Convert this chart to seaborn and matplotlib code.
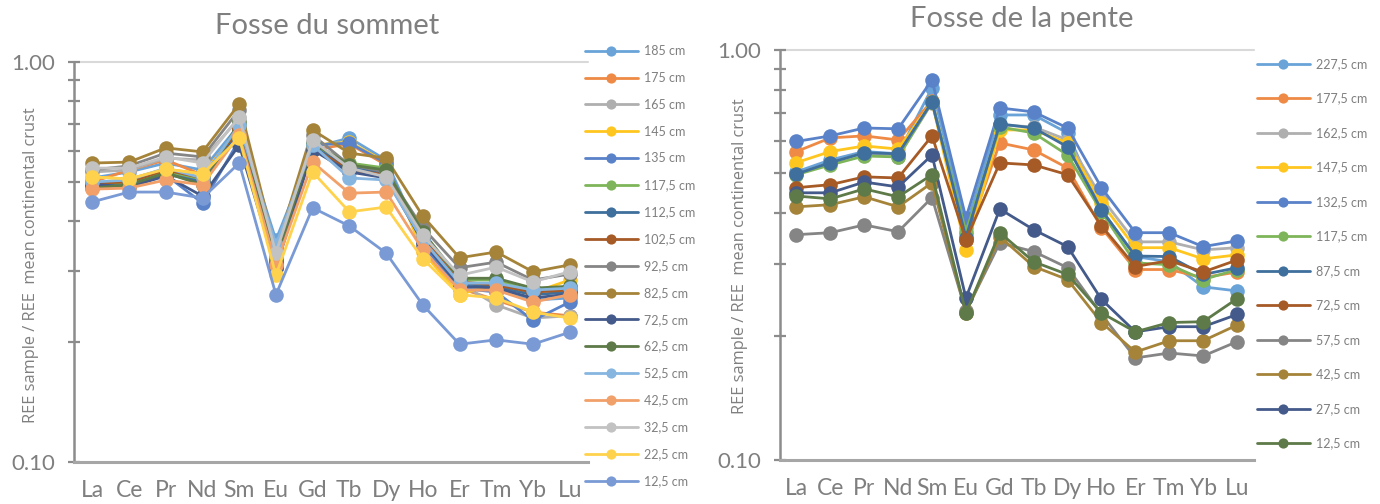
import numpy as np
import pandas as pd
import matplotlib
matplotlib.use("Agg")
import matplotlib.pyplot as plt
import seaborn as sns
from matplotlib.ticker import FixedLocator, FixedFormatter, NullFormatter

sns.set_theme(style="white")
plt.rcParams["font.family"] = ["Lato", "DejaVu Sans"]

elements = ["La", "Ce", "Pr", "Nd", "Sm", "Eu", "Gd", "Tb", "Dy", "Ho", "Er", "Tm", "Yb", "Lu"]

# ---------------- Fosse du sommet ----------------
sommet_labels = ["185 cm", "175 cm", "165 cm", "145 cm", "135 cm", "117,5 cm", "112,5 cm",
                 "102,5 cm", "92,5 cm", "82,5 cm", "72,5 cm", "62,5 cm", "52,5 cm",
                 "42,5 cm", "32,5 cm", "22,5 cm", "12,5 cm"]
s_185 = [0.513, 0.531, 0.559, 0.537, 0.696, 0.359, 0.610, 0.646, 0.569, 0.355, 0.277, 0.269, 0.254, 0.257]
s_175 = [0.501, 0.537, 0.569, 0.522, 0.684, 0.320, 0.603, 0.624, 0.553, 0.349, 0.272, 0.254, 0.237, 0.232]
s_165 = [0.531, 0.537, 0.575, 0.569, 0.724, 0.324, 0.631, 0.553, 0.537, 0.363, 0.280, 0.247, 0.229, 0.232]
s_145 = [0.516, 0.510, 0.540, 0.525, 0.676, 0.316, 0.620, 0.631, 0.562, 0.335, 0.262, 0.280, 0.265, 0.285]
s_135 = [0.493, 0.493, 0.522, 0.444, 0.638, 0.306, 0.620, 0.627, 0.559, 0.349, 0.272, 0.266, 0.226, 0.251]
s_117 = [0.493, 0.498, 0.531, 0.507, 0.696, 0.316, 0.620, 0.559, 0.543, 0.367, 0.285, 0.285, 0.269, 0.272]
s_112 = [0.490, 0.490, 0.525, 0.501, 0.676, 0.311, 0.613, 0.546, 0.528, 0.359, 0.280, 0.274, 0.262, 0.266]
s_102 = [0.498, 0.501, 0.537, 0.513, 0.684, 0.316, 0.610, 0.537, 0.522, 0.363, 0.282, 0.277, 0.266, 0.269]
s_92 = [0.537, 0.550, 0.592, 0.579, 0.759, 0.329, 0.657, 0.553, 0.531, 0.385, 0.306, 0.316, 0.285, 0.295]
s_82 = [0.559, 0.562, 0.610, 0.596, 0.785, 0.339, 0.676, 0.592, 0.575, 0.412, 0.324, 0.335, 0.299, 0.311]
s_72 = [0.495, 0.487, 0.519, 0.462, 0.620, 0.306, 0.603, 0.531, 0.513, 0.355, 0.275, 0.272, 0.257, 0.263]
s_62 = [0.484, 0.493, 0.528, 0.493, 0.708, 0.320, 0.627, 0.553, 0.537, 0.376, 0.288, 0.288, 0.272, 0.275]
s_52 = [0.501, 0.507, 0.543, 0.513, 0.696, 0.349, 0.620, 0.513, 0.507, 0.359, 0.280, 0.280, 0.269, 0.272]
s_42 = [0.481, 0.484, 0.507, 0.493, 0.657, 0.311, 0.562, 0.470, 0.473, 0.339, 0.269, 0.269, 0.251, 0.262]
s_32 = [0.543, 0.543, 0.579, 0.559, 0.729, 0.333, 0.638, 0.543, 0.516, 0.369, 0.293, 0.307, 0.282, 0.299]
s_22 = [0.516, 0.510, 0.540, 0.525, 0.646, 0.293, 0.531, 0.422, 0.434, 0.322, 0.262, 0.257, 0.237, 0.229]
s_12 = [0.447, 0.473, 0.473, 0.457, 0.559, 0.262, 0.432, 0.389, 0.333, 0.247, 0.197, 0.202, 0.197, 0.211]
sommet_series = [s_185, s_175, s_165, s_145, s_135, s_117, s_112, s_102, s_92, s_82,
                 s_72, s_62, s_52, s_42, s_32, s_22, s_12]

# ---------------- Fosse de la pente ----------------
pente_labels = ["227,5 cm", "177,5 cm", "162,5 cm", "147,5 cm", "132,5 cm", "117,5 cm",
                "87,5 cm", "72,5 cm", "57,5 cm", "42,5 cm", "27,5 cm", "12,5 cm"]
p_227 = [0.504, 0.539, 0.565, 0.558, 0.808, 0.370, 0.694, 0.694, 0.627, 0.407, 0.313, 0.304, 0.264, 0.258]
p_177 = [0.565, 0.610, 0.617, 0.603, 0.751, 0.344, 0.593, 0.570, 0.515, 0.368, 0.291, 0.291, 0.278, 0.287]
p_162 = [0.498, 0.530, 0.561, 0.548, 0.743, 0.354, 0.656, 0.649, 0.603, 0.436, 0.340, 0.340, 0.325, 0.329]
p_147 = [0.531, 0.565, 0.583, 0.573, 0.747, 0.325, 0.638, 0.638, 0.593, 0.423, 0.329, 0.329, 0.309, 0.316]
p_132 = [0.598, 0.617, 0.645, 0.642, 0.845, 0.389, 0.722, 0.706, 0.645, 0.461, 0.358, 0.358, 0.331, 0.342]
p_117 = [0.496, 0.524, 0.551, 0.548, 0.747, 0.360, 0.649, 0.627, 0.554, 0.403, 0.302, 0.299, 0.275, 0.291]
p_87 = [0.498, 0.531, 0.561, 0.558, 0.747, 0.348, 0.660, 0.645, 0.580, 0.407, 0.314, 0.313, 0.283, 0.294]
p_72 = [0.461, 0.469, 0.490, 0.487, 0.617, 0.344, 0.530, 0.524, 0.496, 0.372, 0.296, 0.306, 0.287, 0.307]
p_57 = [0.354, 0.358, 0.374, 0.360, 0.436, 0.230, 0.338, 0.322, 0.294, 0.226, 0.177, 0.182, 0.179, 0.194]
p_42 = [0.414, 0.419, 0.438, 0.414, 0.474, 0.228, 0.350, 0.296, 0.275, 0.216, 0.183, 0.195, 0.195, 0.213]
p_27 = [0.448, 0.448, 0.476, 0.463, 0.554, 0.248, 0.409, 0.364, 0.331, 0.246, 0.205, 0.211, 0.211, 0.226]
p_12 = [0.440, 0.433, 0.458, 0.438, 0.496, 0.228, 0.358, 0.304, 0.283, 0.228, 0.205, 0.216, 0.217, 0.247]
pente_series = [p_227, p_177, p_162, p_147, p_132, p_117, p_87, p_72, p_57, p_42, p_27, p_12]

palette_colors = ["#69A3D8", "#EE8A45", "#AFAFAF", "#FFC61F", "#5A82C9", "#7FB55A",
                  "#3F6F9C", "#A65A26", "#858585", "#A5843A", "#435A8A", "#5D7A48",
                  "#86B5E0", "#F2A06A", "#C2C2C2", "#FFD24D", "#7A9AD5"]

GRAY = "#7F7F7F"


def long_frame(labels, series):
    rows = []
    for lab, vals in zip(labels, series):
        for i, (el, v) in enumerate(zip(elements, vals)):
            rows.append({"sample": lab, "pos": i, "element": el, "value": v})
    return pd.DataFrame(rows)


W, H = 1380, 504
fig = plt.figure(figsize=(W / 100, H / 100), dpi=100)


def make_panel(rect, labels, series, title, title_xy, ylab_xy, leg_anchor, leg_spacing):
    ax = fig.add_axes(rect)
    df = long_frame(labels, series)
    pal = dict(zip(labels, palette_colors[:len(labels)]))
    sns.lineplot(data=df, x="pos", y="value", hue="sample", hue_order=labels, palette=pal,
                 marker="o", markersize=10.5, markeredgewidth=0, linewidth=2.0,
                 sort=False, legend=False, ax=ax)
    ax.set_yscale("log")
    ax.set_ylim(0.1, 1.0)
    ax.set_xlim(-0.5, len(elements) - 0.5)
    ax.set_xticks(range(len(elements)))
    ax.set_xticklabels(elements)
    ax.yaxis.set_major_locator(FixedLocator([0.1, 1.0]))
    ax.yaxis.set_major_formatter(FixedFormatter(["0.10", "1.00"]))
    ax.yaxis.set_minor_locator(FixedLocator([0.2, 0.3, 0.4, 0.5, 0.6, 0.7, 0.8, 0.9]))
    ax.yaxis.set_minor_formatter(NullFormatter())
    ax.tick_params(axis="y", which="both", direction="inout", length=9, width=1.6,
                   color="#8C8C8C", left=True, labelsize=16, labelcolor=GRAY, pad=9)
    ax.tick_params(axis="x", which="both", length=0, labelsize=16.5, labelcolor=GRAY, pad=13)
    ax.set_xlabel("")
    ax.set_ylabel("")
    for side in ["top", "right"]:
        ax.spines[side].set_visible(False)
    ax.spines["left"].set_color("#8C8C8C")
    ax.spines["left"].set_linewidth(1.8)
    ax.spines["bottom"].set_color("#A6A6A6")
    ax.spines["bottom"].set_linewidth(2.2)
    ax.axhline(1.0, color="#D9D9D9", linewidth=1.5, zorder=0, clip_on=False)
    ax.grid(False)

    fig.text(title_xy[0] / W, 1 - title_xy[1] / H, title, ha="center", va="center",
             fontsize=21, color=GRAY)
    fig.text(ylab_xy[0] / W, 1 - ylab_xy[1] / H, "REE sample / REE  mean continental crust",
             rotation=90, ha="center", va="center", fontsize=11.8, color=GRAY,
             family=["Open Sans", "DejaVu Sans"])

    handles = ax.get_lines()[:len(labels)]
    leg = ax.legend(handles, labels, loc="upper left",
                    bbox_to_anchor=(leg_anchor[0] / W, 1 - leg_anchor[1] / H),
                    bbox_transform=fig.transFigure, frameon=False, fontsize=9,
                    markerscale=0.7, handlelength=4.2, handletextpad=0.5,
                    labelspacing=leg_spacing, borderpad=0, borderaxespad=0,
                    labelcolor=GRAY)
    leg.set_clip_on(False)
    return ax


make_panel([74 / W, 1 - 462 / H, 514 / W, 400 / H], sommet_labels, sommet_series,
           "Fosse du sommet", (327, 26), (31, 265), (585, 45), 1.19)
make_panel([779.5 / W, 1 - 459.5 / H, 474.5 / W, 409.5 / H], pente_labels, pente_series,
           "Fosse de la pente", (1022, 19), (740, 256), (1257, 58), 1.80)

fig.savefig("out.png", dpi=100)
